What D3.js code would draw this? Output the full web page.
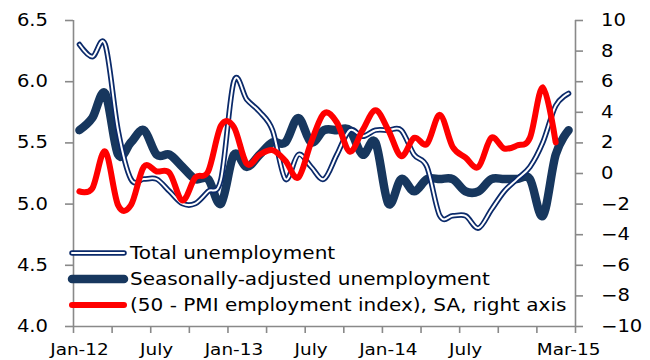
<!DOCTYPE html>
<html>
<head>
<meta charset="utf-8">
<script src="https://cdn.jsdelivr.net/npm/d3@7"></script>
<style>
  body { margin: 0; background: #fff; }
  text { font-family: "DejaVu Sans", Verdana, sans-serif; fill: #000; }
</style>
</head>
<body>
<div id="chart"></div>
<script>
// monthly categories, Jan-12 .. Mar-15
let months = ["Jan-12","Feb-12","Mar-12","Apr-12","May-12","Jun-12","Jul-12","Aug-12","Sep-12","Oct-12","Nov-12","Dec-12",
  "Jan-13","Feb-13","Mar-13","Apr-13","May-13","Jun-13","Jul-13","Aug-13","Sep-13","Oct-13","Nov-13","Dec-13",
  "Jan-14","Feb-14","Mar-14","Apr-14","May-14","Jun-14","Jul-14","Aug-14","Sep-14","Oct-14","Nov-14","Dec-14",
  "Jan-15","Feb-15","Mar-15"];

let totalUnemp = [6.3, 6.2, 6.3, 5.6, 5.2, 5.2, 5.2, 5.1, 5.0, 5.0, 5.1, 5.2,
  6.0, 5.85, 5.75, 5.6, 5.2, 5.4, 5.3, 5.2, 5.4, 5.6, 5.55, 5.6,
  5.6, 5.6, 5.4, 5.3, 4.9, 4.9, 4.9, 4.8, 4.95, 5.1, 5.2, 5.3,
  5.5, 5.8, 5.9];

let saUnemp = [5.6, 5.7, 5.9, 5.4, 5.5, 5.6, 5.4, 5.4, 5.3, 5.2, 5.2, 5.0,
  5.4, 5.3, 5.4, 5.5, 5.5, 5.7, 5.5, 5.6, 5.6, 5.6, 5.4, 5.5,
  5.0, 5.2, 5.1, 5.2, 5.2, 5.2, 5.1, 5.1, 5.2, 5.2, 5.2, 5.2,
  4.9, 5.4, 5.6];

let pmiEmp = [-1.2, -1.0, 1.4, -2.1, -2.1, 0.4, 0.1, 0.0, -1.8, -0.3, 0.1, 3.1,
  3.0, 0.6, 1.2, 1.5, 0.8, -0.3, 2.0, 3.9, 3.3, 1.4, 2.8, 4.1,
  2.8, 1.1, 2.3, 1.9, 3.8, 1.7, 1.0, 0.4, 2.3, 1.6, 1.8, 2.3,
  5.6, 2.0, null];

let leftTicks = [4.0, 4.5, 5.0, 5.5, 6.0, 6.5];
let rightTicks = [-10, -8, -6, -4, -2, 0, 2, 4, 6, 8, 10];
let labelMonths = ["Jan-12", "Jul-12", "Jan-13", "Jul-13", "Jan-14", "Jul-14", "Mar-15"];
let labelText = ["Jan-12", "July", "Jan-13", "July", "Jan-14", "July", "Mar-15"];
let legendNames = ["Total unemployment", "Seasonally-adjusted unemployment", "(50 - PMI employment index), SA, right axis"];

let W = 650, H = 360;
let plot = {left: 73, right: 575, top: 20, bottom: 326};
let axisColor = "#898989";

let svg = d3.select("#chart").append("svg")
  .attr("width", W)
  .attr("height", H);

let x = d3.scaleBand()
  .domain(months)
  .range([plot.left, plot.right])
  .padding(0);
let cx = function(m) { return x(m) + x.bandwidth() / 2; };

let yL = d3.scaleLinear().domain([4, 6.5]).range([plot.bottom, plot.top]);
let yR = d3.scaleLinear().domain([-10, 10]).range([plot.bottom, plot.top]);

// x axis: tick marks at every quarter boundary
let xIdx = d3.scaleLinear().domain([0, months.length]).range([plot.left, plot.right]);
let gx = svg.append("g")
  .attr("transform", "translate(0," + plot.bottom + ")")
  .call(d3.axisBottom(xIdx).tickValues(d3.range(0, months.length + 1, 3)).tickSize(7).tickFormat(""));

// x labels at category centres
let gxl = svg.append("g")
  .attr("transform", "translate(0," + plot.bottom + ")")
  .call(d3.axisBottom(x).tickValues(labelMonths).tickSize(0).tickPadding(18)
    .tickFormat(function(d) { return labelText[labelMonths.indexOf(d)]; }));
gxl.select(".domain").remove();

let gl = svg.append("g")
  .attr("transform", "translate(" + plot.left + ",0)")
  .call(d3.axisLeft(yL).tickValues(leftTicks).tickSize(8).tickPadding(17).tickFormat(d3.format(".1f")));

let gr = svg.append("g")
  .attr("transform", "translate(" + plot.right + ",0)")
  .call(d3.axisRight(yR).tickValues(rightTicks).tickSize(8).tickPadding(18).tickFormat(d3.format("d")));

svg.selectAll(".domain, .tick line")
  .attr("stroke", axisColor)
  .attr("stroke-width", 1.6);
svg.selectAll(".tick text")
  .attr("font-size", 16)
  .attr("font-family", "DejaVu Sans")
  .attr("fill", "#000")
  .classed("stretch", true);
gl.selectAll(".tick text").attr("font-size", 17);
gr.selectAll(".tick text").attr("font-size", 17);
// axis domains without the outer end caps
gx.select(".domain").attr("d", "M" + plot.left + ",0.5H" + plot.right);
gl.select(".domain").attr("d", "M0.5," + plot.top + "V" + plot.bottom);
gr.select(".domain").attr("d", "M0.5," + plot.top + "V" + plot.bottom);

// smoothed lines like Excel
let curve = d3.curveCardinal.tension(0);
let lineL = d3.line()
  .defined(function(d) { return d.v != null; })
  .x(function(d) { return cx(d.m); })
  .y(function(d) { return yL(d.v); })
  .curve(curve);
let lineR = d3.line()
  .defined(function(d) { return d.v != null; })
  .x(function(d) { return cx(d.m); })
  .y(function(d) { return yR(d.v); })
  .curve(curve);

let pair = function(vals) { return months.map(function(m, i) { return {m: m, v: vals[i]}; }); };

svg.append("path")
  .attr("d", lineL(pair(saUnemp)))
  .attr("fill", "none")
  .attr("stroke", "#17375E")
  .attr("stroke-width", 8.5)
  .attr("stroke-linejoin", "round")
  .attr("stroke-linecap", "round");

svg.append("path")
  .attr("d", lineL(pair(totalUnemp)))
  .attr("fill", "none")
  .attr("stroke", "#0B2A6A")
  .attr("stroke-width", 5.5)
  .attr("stroke-linejoin", "round")
  .attr("stroke-linecap", "round");
svg.append("path")
  .attr("d", lineL(pair(totalUnemp)))
  .attr("fill", "none")
  .attr("stroke", "#fff")
  .attr("stroke-width", 2)
  .attr("stroke-linejoin", "round")
  .attr("stroke-linecap", "round");

svg.append("path")
  .attr("d", lineR(pair(pmiEmp)))
  .attr("fill", "none")
  .attr("stroke", "#FF0000")
  .attr("stroke-width", 6)
  .attr("stroke-linejoin", "round")
  .attr("stroke-linecap", "round");

// legend
let legend = svg.append("g").attr("transform", "translate(70,253)");
let rowH = 26;
let sample = function(g, y, color, w) {
  g.append("line")
    .attr("x1", 2).attr("x2", 54).attr("y1", y).attr("y2", y)
    .attr("stroke", color).attr("stroke-width", w)
    .attr("stroke-linecap", "round");
};
sample(legend, 0, "#0B2A6A", 5.5);
sample(legend, 0, "#fff", 2);
sample(legend, rowH, "#17375E", 8.5);
sample(legend, rowH * 2, "#FF0000", 6);
legend.selectAll("text.lg")
  .data(legendNames)
  .enter().append("text")
    .attr("class", "lg")
    .attr("x", 60)
    .attr("y", function(d, i) { return i * rowH; })
    .attr("dy", "0.36em")
    .attr("font-size", 17.5)
    .text(function(d) { return d; });

// the source text is drawn a little wider than the font
let stretch = function(sel, k) {
  sel.each(function() {
    let len = this.getComputedTextLength();
    d3.select(this)
      .attr("textLength", len * k)
      .attr("lengthAdjust", "spacingAndGlyphs");
  });
};
stretch(svg.selectAll("text.stretch"), 1.15);
stretch(legend.selectAll("text.lg"), 1.145);
</script>
</body>
</html>
